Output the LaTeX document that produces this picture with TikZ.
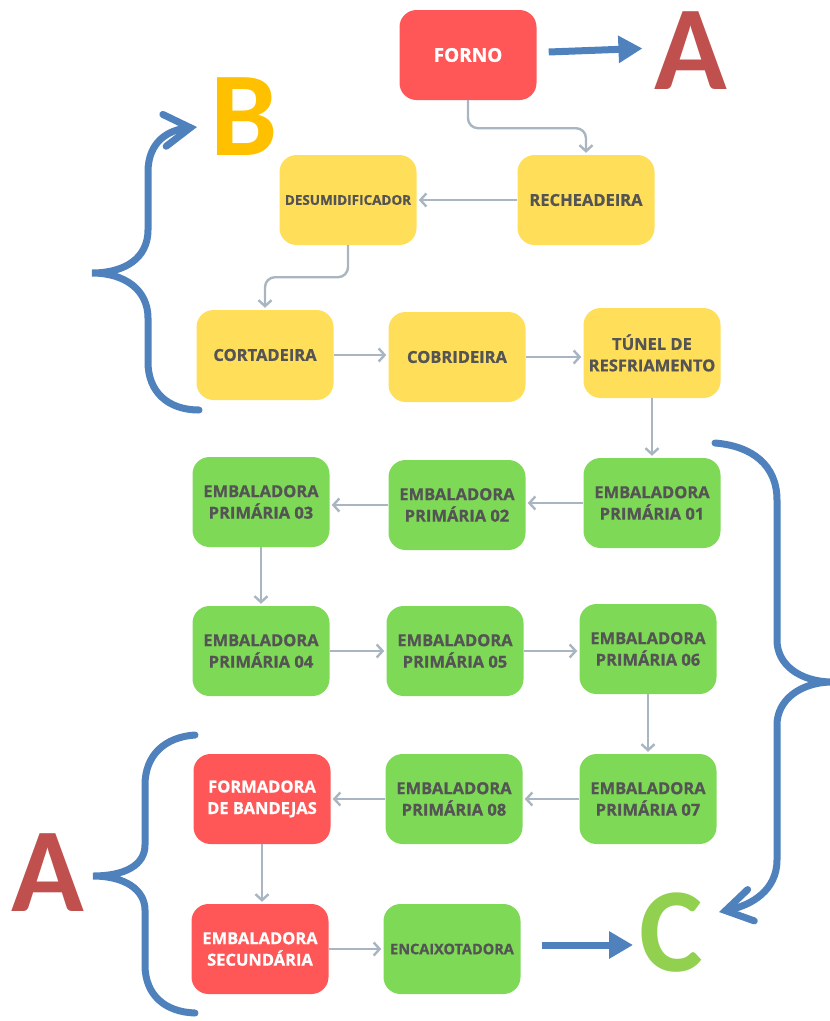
\documentclass[tikz,border=0pt]{standalone}
\usepackage{fontspec}
\setmainfont{Open Sans}[BoldFeatures={FakeBold=0.8}]
\newfontfamily\bigletterfont{Carlito}
\usetikzlibrary{arrows.meta}
\definecolor{boxred}{HTML}{FF5757}
\definecolor{boxyellow}{HTML}{FFDE59}
\definecolor{boxgreen}{HTML}{7ED957}
\definecolor{labelgray}{HTML}{545454}
\definecolor{linkgray}{HTML}{A9B6C1}
\definecolor{braceblue}{HTML}{4F81BD}
\definecolor{letterred}{HTML}{C0504D}
\definecolor{lettergold}{HTML}{FFC000}
\definecolor{lettergreen}{HTML}{92D050}

\tikzset{
  machine/.style={rounded corners=17pt, minimum width=137pt, minimum height=90pt,
    inner sep=2pt, align=center, text=labelgray,
    font=\bfseries\fontsize{16.5}{21.5}\selectfont},
  redmachine/.style={machine, fill=boxred, text=white},
  yellowmachine/.style={machine, fill=boxyellow},
  greenmachine/.style={machine, fill=boxgreen},
  link/.style={draw=linkgray, line width=2.4pt, shorten >=2pt,
    -{Straight Barb[length=6pt, width=13pt]}},
  bluearrow/.style={draw=braceblue, line width=7pt,
    -{Triangle[length=24pt, width=26pt]}},
  brace/.style={draw=braceblue, line width=7pt, line cap=round},
  bigletter/.style={inner sep=0pt, font=\bigletterfont\bfseries\fontsize{120}{120}\selectfont}
}

\begin{document}
\begin{tikzpicture}[x=1pt, y=-1pt]
  \useasboundingbox (0,0) rectangle (830,1021);

  % Linha de produção
  \node[redmachine, font=\bfseries\fontsize{19}{24}\selectfont] (forno) at (468,55) {FORNO};
  \node[yellowmachine] (rech)   at (586,200) {RECHEADEIRA};
  \node[yellowmachine, font=\bfseries\fontsize{13.5}{17}\selectfont] (desum) at (348,200) {DESUMIDIFICADOR};
  \node[yellowmachine] (cort)   at (265,355) {CORTADEIRA};
  \node[yellowmachine] (cobr)   at (457,357) {COBRIDEIRA};
  \node[yellowmachine] (tunel)  at (652,353) {TÚNEL DE\\RESFRIAMENTO};

  \node[greenmachine] (ep01) at (652,503) {EMBALADORA\\PRIMÁRIA 01};
  \node[greenmachine] (ep02) at (457,505) {EMBALADORA\\PRIMÁRIA 02};
  \node[greenmachine] (ep03) at (261,502) {EMBALADORA\\PRIMÁRIA 03};
  \node[greenmachine] (ep04) at (261,651) {EMBALADORA\\PRIMÁRIA 04};
  \node[greenmachine] (ep05) at (455,651) {EMBALADORA\\PRIMÁRIA 05};
  \node[greenmachine] (ep06) at (648,649) {EMBALADORA\\PRIMÁRIA 06};
  \node[greenmachine] (ep07) at (648,799) {EMBALADORA\\PRIMÁRIA 07};
  \node[greenmachine] (ep08) at (454,799) {EMBALADORA\\PRIMÁRIA 08};

  \node[redmachine]   (formad) at (262,799) {FORMADORA\\DE BANDEJAS};
  \node[redmachine]   (secund) at (260,949) {EMBALADORA\\SECUNDÁRIA};
  \node[greenmachine, font=\bfseries\fontsize{14.5}{18}\selectfont] (encaix) at (452,949) {ENCAIXOTADORA};

  % Letras dos grupos
  \node[bigletter, text=letterred]   (Atop) at (691,51)  {A};
  \node[bigletter, text=lettergold]  (B)    at (244,117) {B};
  \node[bigletter, text=letterred]   (Abot) at (48,873)  {A};
  \node[bigletter, text=lettergreen] (C)    at (671,933) {C};

  % Fluxo entre as máquinas
  \draw[link, rounded corners=10pt] (forno.south) -- ++(0,28) -| (rech.north);
  \draw[link] (rech.west) -- (rech.west -| desum.east);
  \draw[link, rounded corners=10pt] (desum.south) -- ++(0,32) -| (cort.north);
  \draw[link] (cort.east) -- (cort.east -| cobr.west);
  \draw[link] (cobr.east) -- (cobr.east -| tunel.west);
  \draw[link] (tunel) -- (ep01);
  \draw[link] (ep01.west) -- (ep01.west -| ep02.east);
  \draw[link] (ep02.west) -- (ep02.west -| ep03.east);
  \draw[link] (ep03) -- (ep04);
  \draw[link] (ep04.east) -- (ep04.east -| ep05.west);
  \draw[link] (ep05.east) -- (ep05.east -| ep06.west);
  \draw[link] (ep06) -- (ep07);
  \draw[link] (ep07) -- (ep08);
  \draw[link] (ep08) -- (formad);
  \draw[link] (formad.south) -- (formad.south |- secund.north);
  \draw[link] (secund) -- (encaix);

  % Setas azuis para as letras
  \draw[bluearrow, shorten >=12pt] ([xshift=12pt, yshift=3pt]forno.east) -- ([yshift=3pt]Atop.west);
  \draw[bluearrow, shorten >=6pt] ([xshift=21pt, yshift=4pt]encaix.east) -- ([yshift=4pt]encaix.east -| C.west);

  % Chaves
  \draw[brace, -{Straight Barb[length=26pt, width=32pt, line cap=round]}]
    (199,410) .. controls (168,410) and (148,392) .. (148,362) -- (148,318)
    .. controls (148,290) and (125,273) .. (92,273)
    .. controls (125,273) and (148,258) .. (148,230) -- (148,172)
    .. controls (148,142) and (168,130) .. (197,127);
  \draw[brace, -{Straight Barb[length=26pt, width=32pt, line cap=round]}]
    (715,443) .. controls (752,446) and (777,465) .. (777,500) -- (777,640)
    .. controls (777,665) and (800,681) .. (830,682)
    .. controls (800,683) and (777,700) .. (777,725) -- (777,860)
    .. controls (777,890) and (752,905) .. (719,912);
  \draw[brace]
    (195,735) .. controls (165,737) and (145,755) .. (145,785) -- (145,845)
    .. controls (145,865) and (125,876) .. (93,876)
    .. controls (125,876) and (145,890) .. (145,910) -- (145,965)
    .. controls (145,995) and (165,1012) .. (195,1013);
\end{tikzpicture}
\end{document}
